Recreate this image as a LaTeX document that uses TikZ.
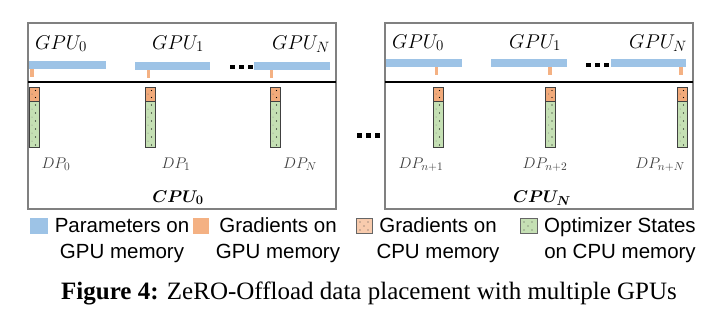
\RequirePackage{fix-cm}
\documentclass[tikz,border=0pt]{standalone}
\usepackage{amsmath,bm}
\usepackage{fontspec}
\setmainfont{Liberation Serif}
\newfontfamily\arialfont{Liberation Sans}
\DeclareMathSizes{20}{20}{15}{11}
\DeclareMathSizes{15.5}{15.5}{11.5}{9}
\DeclareMathSizes{17}{17}{13}{10}
\definecolor{paramblue}{HTML}{9DC3E6}
\definecolor{gradorange}{HTML}{F4B183}
\definecolor{cpuorange}{HTML}{F2AA7A}
\definecolor{legorange}{HTML}{F8CBAD}
\definecolor{optgreen}{HTML}{C5E0B4}
\definecolor{boxgray}{HTML}{808080}
\definecolor{dpgray}{HTML}{404040}
\begin{document}
\begin{tikzpicture}[x=1bp,y=-1bp,
  box/.style={draw=boxgray, line width=1.3bp},
  parambar/.style={fill=paramblue, draw=none},
  gpugrad/.style={fill=gradorange, draw=none},
  gpulabel/.style={font=\fontsize{20}{24}\selectfont, anchor=base, inner sep=0pt},
  dplabel/.style={font=\fontsize{15.5}{18}\selectfont, text=dpgray, anchor=base, inner sep=0pt},
  cpulabel/.style={font=\fontsize{17}{20}\selectfont, anchor=base, inner sep=0pt},
  legtext/.style={font=\arialfont\fontsize{20.5bp}{26bp}\selectfont, align=center, anchor=base, inner sep=0pt},
  captext/.style={font=\fontsize{25bp}{28bp}\selectfont, anchor=base west, inner sep=0pt},
  memcol/.pic={
    \draw[line width=0.8bp, draw=black!75, fill=cpuorange] (0,0) rectangle (10,14);
    \draw[line width=0.8bp, draw=black!75, fill=optgreen] (0,14) rectangle (10,60);
    \foreach \yy in {3.5,10.5}{\fill[black] (6.5,\yy) circle[radius=0.6bp];}
    \fill[black!60] (3,7) circle[radius=0.5bp];
    \foreach \yy in {18,26,...,58}{\fill[black] (6.5,\yy) circle[radius=0.6bp];}
    \foreach \yy in {22,30,...,58}{\fill[black!50] (3,\yy) circle[radius=0.5bp];}
  },
  threedots/.pic={
    \foreach \xx in {0,9,18}{\fill[black] (\xx,0) rectangle ++(4.6,4.6);}
  }
]
\useasboundingbox (0,0) rectangle (718,313);

% ---------- left box (CPU_0) ----------
\draw[box] (28,23) rectangle (336,209);
\draw[black, line width=1.6bp] (28,82) -- (336,82);
\node[gpulabel] (lg0) at (61,49) {$GPU_0$};
\node[gpulabel] (lg1) at (178,49) {$GPU_1$};
\node[gpulabel] (lgN) at (301,49) {$GPU_N$};
\fill[parambar] (29,61) rectangle (106,69);
\fill[parambar] (135,62) rectangle (210,70);
\fill[parambar] (254,62) rectangle (330,70);
\fill[gpugrad] (30,69) rectangle (33.5,77);
\fill[gpugrad] (146.5,70) rectangle (150,78);
\fill[gpugrad] (269.5,70) rectangle (273,78);
\pic at (230,64.5) {threedots};
\pic at (29,87) {memcol};
\pic at (145,87) {memcol};
\pic at (270,87) {memcol};
\node[dplabel] (ld0) at (56,168) {$DP_0$};
\node[dplabel] (ld1) at (176,168) {$DP_1$};
\node[dplabel] (ldN) at (300,168) {$DP_N$};
\node[cpulabel] (lcpu) at (178,202) {$\bm{CPU_0}$};

% ---------- middle dots ----------
\pic at (357,133) {threedots};

% ---------- right box (CPU_N) ----------
\draw[box] (385,23) rectangle (693,209);
\draw[black, line width=1.6bp] (385,82) -- (693,82);
\node[gpulabel] (rg0) at (418,48) {$GPU_0$};
\node[gpulabel] (rg1) at (535,48) {$GPU_1$};
\node[gpulabel] (rgN) at (658,48) {$GPU_N$};
\fill[parambar] (386,59) rectangle (462,66.5);
\fill[parambar] (491,59) rectangle (567,66.5);
\fill[parambar] (611,59) rectangle (686,66.5);
\fill[gpugrad] (434.5,66.5) rectangle (438,75);
\fill[gpugrad] (548,66.5) rectangle (551.5,75);
\fill[gpugrad] (679,66.5) rectangle (682.5,75);
\pic at (586,62.5) {threedots};
\pic at (433,87) {memcol};
\pic at (545.5,87) {memcol};
\pic at (677,87) {memcol};
\node[dplabel] (rd1) at (421,168) {$DP_{n+1}$};
\node[dplabel] (rd2) at (545,168) {$DP_{n+2}$};
\node[dplabel] (rdN) at (660,168) {$DP_{n+N}$};
\node[cpulabel] (rcpu) at (542,202) {$\bm{CPU_N}$};

% ---------- legend ----------
\fill[paramblue] (30,218) rectangle (48,234);
\node[legtext] (lp) at (122,258) {Parameters on\\GPU memory};
\fill[gradorange] (193,218) rectangle (209,234);
\node[legtext] (lgg) at (278,258) {Gradients on\\GPU memory};
\draw[line width=0.8bp, draw=black!60, fill=legorange] (356.5,218.5) rectangle (372.5,233.5);
\foreach \p in {(360,222),(368,222),(364,226),(360,230),(368,230)}{\fill[black!70] \p circle[radius=0.55bp];}
\node[legtext] (lgc) at (438,258) {Gradients on\\CPU memory};
\draw[line width=0.8bp, draw=black!60, fill=optgreen] (520.5,218.5) rectangle (537.5,233.5);
\foreach \p in {(524,222),(532,222),(528,226),(524,230),(532,230)}{\fill[black!70] \p circle[radius=0.55bp];}
\node[legtext] (lo) at (620,258) {Optimizer States\\on CPU memory};

% ---------- caption ----------
\node[captext] (cap) at (61,299) {\textbf{Figure 4:} ZeRO-Offload data placement with multiple GPUs};
\end{tikzpicture}
\end{document}
